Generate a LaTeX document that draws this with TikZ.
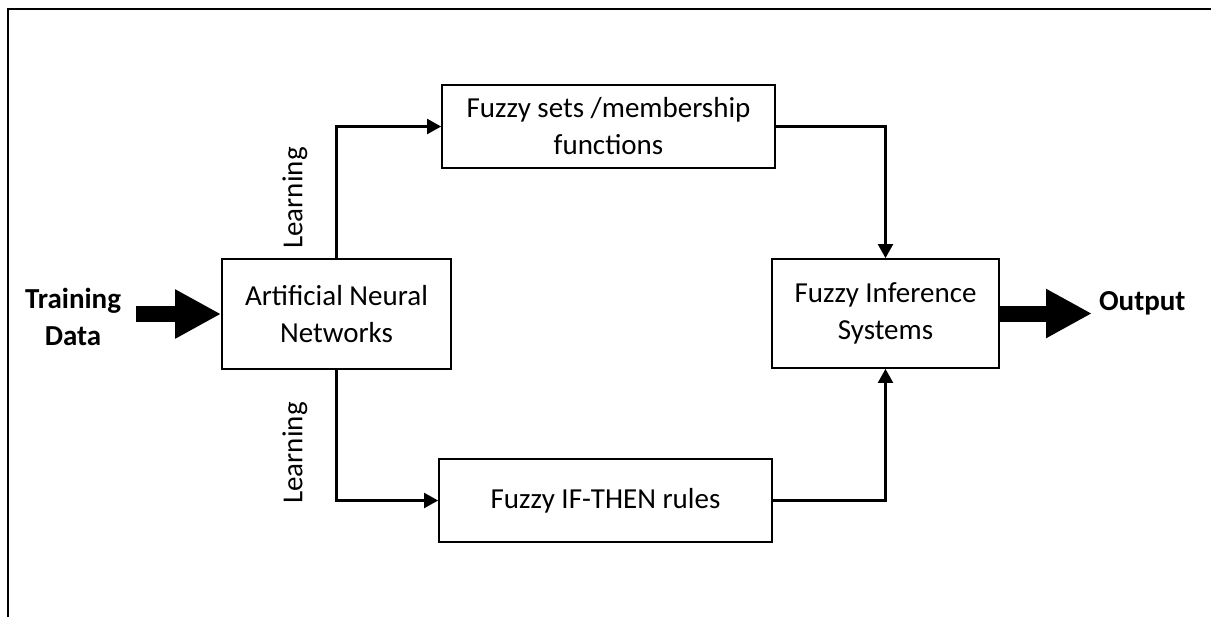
\documentclass[tikz,border=0pt]{standalone}
\usepackage{fontspec}
\setmainfont{Carlito}
\usetikzlibrary{arrows.meta}

\begin{document}
\begin{tikzpicture}[x=0.5pt, y=-0.5pt,
		blockbox/.style={rectangle, draw, line width=0.9pt, align=center, font=\fontsize{14.5}{18.5}\selectfont},
		flowline/.style={draw, line width=1.1pt, -{Triangle[length=7pt, width=7.5pt]}},
		bigarrow/.style={line width=8pt, -{Triangle[length=23pt, width=23pt]}},
		sidetext/.style={align=center, font=\fontsize{14.5}{18.5}\selectfont}]
		\useasboundingbox (0,0) rectangle (1211,617);
		\draw [line width=1.3pt] (8,617) -- (8,9) -- (1211,9);
		
		\node (ann) [blockbox, minimum width=114.5pt, minimum height=55pt] at (336.5,314) {Artificial Neural\\Networks};
		
		\node (fset) [blockbox, minimum width=166.5pt, minimum height=41.5pt] at (608.5,126.5) {Fuzzy sets /membership\\functions};
		
		\node (rules) [blockbox, minimum width=166.5pt, minimum height=41.5pt] at (605.5,500.5) {Fuzzy IF-THEN rules};
		
		\node (fis) [blockbox, minimum width=113.5pt, minimum height=54.5pt] at (885.5,313.5) {Fuzzy Inference\\Systems};
		
		\node (train) [sidetext] at (73,317) {\textbf{Training}\\\textbf{Data}};
		\node (output) [sidetext, anchor=west] at (1092,303) {\textbf{Output}};
		
		\node (lrnup) [sidetext, rotate=90] at (295,198) {Learning};
		\node (lrndown) [sidetext, rotate=90] at (295,453) {Learning};
		
		\draw [bigarrow, shorten <=4pt] (train.east |- ann.west) -- (ann.west);
		\draw [bigarrow] (fis.east) -- (fis.east -| output.west);
		
		\draw [flowline] (ann.north) |- (fset.west);
		\draw [flowline] (ann.south) |- (rules.west);
		\draw [flowline] (fset.east) -| (fis.north);
		\draw [flowline] (rules.east) -| (fis.south);
		
		\end{tikzpicture}
\end{document}
